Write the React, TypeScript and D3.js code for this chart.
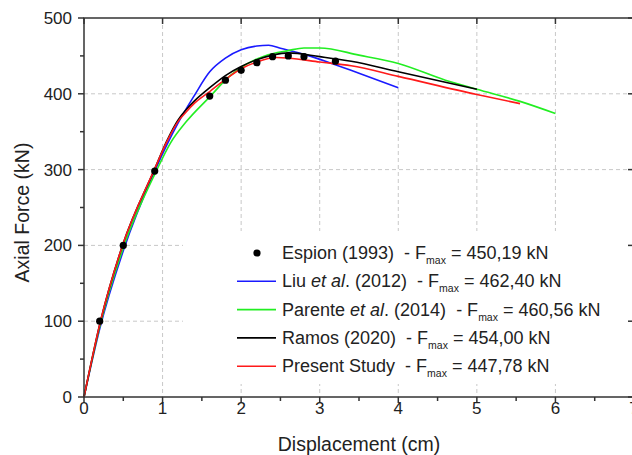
import React from "react";
import * as d3 from "d3";

const espionX = [0.2, 0.5, 0.9, 1.6, 1.8, 2.0, 2.2, 2.4, 2.6, 2.8, 3.2];
const espionY = [100, 200, 298, 397, 418, 431, 441, 449, 450, 449, 443];

const liuX = [0, 0.2, 0.5, 0.9, 1.2, 1.4, 1.6, 1.8, 2.0, 2.2, 2.35, 2.5, 2.8, 3.1, 3.5, 4.0];
const liuY = [0, 90, 193, 298, 362, 397, 429, 447, 458, 463, 464, 460, 452, 442, 427, 408];

const parX = [0, 0.21, 0.5, 0.92, 1.1, 1.3, 1.6, 1.85, 2.05, 2.3, 2.6, 2.8, 3.0, 3.5, 4.0, 4.6, 5.0, 5.55, 6.0];
const parY = [0, 97, 197, 298, 335, 363, 396, 423, 438, 450, 457, 460.5, 460.5, 451, 440, 418, 406, 390, 374];

const ramX = [0, 0.21, 0.49, 0.9, 1.05, 1.2, 1.3, 1.4, 1.6, 1.8, 2.0, 2.2, 2.4, 2.6, 3.0, 3.4, 4.0, 5.0];
const ramY = [0, 100, 200, 301, 337, 366, 379, 390, 408, 424, 436, 445, 451, 454, 449, 443, 429, 406];

const preX = [0, 0.21, 0.49, 0.9, 1.05, 1.2, 1.3, 1.4, 1.6, 1.8, 2.0, 2.2, 2.45, 2.6, 3.0, 3.4, 4.0, 5.0, 5.55];
const preY = [0, 100, 200, 301, 336, 364, 376, 387, 403, 419, 433, 442, 447.8, 447, 442, 437, 423, 399, 387];

const xTicks = [0, 1, 2, 3, 4, 5, 6, 7];
const yTicks = [0, 100, 200, 300, 400, 500];

const seriesNames = ["Espion (1993)", "Liu et al. (2012)", "Parente et al. (2014)", "Ramos (2020)", "Present Study"];
const fmaxValues = ["450,19", "462,40", "460,56", "454,00", "447,78"];

const FONT = "'Liberation Sans', Arial, sans-serif";

export default function App() {
  const left = 84, right = 634, top = 18, bottom = 397;
  const x = d3.scaleLinear().domain([0, 7]).range([left, right]);
  const y = d3.scaleLinear().domain([0, 500]).range([bottom, top]);
  const line = d3.line<[number, number]>().x(d => x(d[0])).y(d => y(d[1])).curve(d3.curveMonotoneX);
  const zip = (a: number[], b: number[]) => a.map((v, i) => [v, b[i]] as [number, number]);

  const lines = [
    { d: zip(liuX, liuY), color: "#1a1aff" },
    { d: zip(parX, parY), color: "#22ee22" },
    { d: zip(ramX, ramY), color: "#000000" },
    { d: zip(preX, preY), color: "#ff1a1a" },
  ];

  const xMinor = d3.range(0.5, 7, 1);
  const yMinor = d3.range(50, 500, 100);
  const axisColor = "#333";

  const legX = 237, legTextX = 282, legY0 = 253, legDy = 28.3;
  const legColors = ["#000", "#1a1aff", "#22ee22", "#000000", "#ff1a1a"];

  const renderName = (name: string) => {
    const m = name.match(/^(.*?)(et al\.)(.*)$/);
    if (!m) return <tspan>{name}</tspan>;
    return (
      <>
        <tspan>{m[1]}</tspan>
        <tspan fontStyle="italic">{m[2].slice(0, 5)}</tspan>
        <tspan>{m[2].slice(5) + m[3]}</tspan>
      </>
    );
  };

  return (
    <svg width={632} height={455} style={{ position: "absolute", left: 0, top: 0, background: "#fff" }} fontFamily={FONT}>
      {/* grid */}
      {xTicks.filter(t => t > 0 && t < 7).map(t => (
        <line key={"gx" + t} x1={x(t)} x2={x(t)} y1={top} y2={bottom} stroke="#c8c8c8" strokeDasharray="4,3" strokeWidth={1} />
      ))}
      {yTicks.filter(t => t > 0 && t < 500).map(t => (
        <line key={"gy" + t} x1={left} x2={right} y1={y(t)} y2={y(t)} stroke="#c8c8c8" strokeDasharray="4,3" strokeWidth={1} />
      ))}
      {/* legend background */}
      <rect x={183} y={231} width={460} height={153} fill="#fff" />

      {/* curves */}
      {lines.map((l, i) => (
        <path key={i} d={line(l.d) || ""} fill="none" stroke={l.color} strokeWidth={1.6} />
      ))}
      {espionX.map((v, i) => (
        <circle key={"e" + i} cx={x(v)} cy={y(espionY[i])} r={3.6} fill="#000" />
      ))}

      {/* frame */}
      <rect x={left} y={top} width={right - left} height={bottom - top} fill="none" stroke={axisColor} strokeWidth={1.5} />
      {xTicks.map(t => (
        <line key={"bt" + t} x1={x(t)} x2={x(t)} y1={bottom} y2={bottom + 6} stroke={axisColor} strokeWidth={1.5} />
      ))}
      {xMinor.map(t => (
        <line key={"bm" + t} x1={x(t)} x2={x(t)} y1={bottom} y2={bottom + 4} stroke={axisColor} strokeWidth={1.5} />
      ))}
      {xTicks.map(t => (
        <line key={"tt" + t} x1={x(t)} x2={x(t)} y1={top} y2={top + 6} stroke={axisColor} strokeWidth={1.5} />
      ))}
      {yTicks.map(t => (
        <line key={"lt" + t} x1={left - 6} x2={left} y1={y(t)} y2={y(t)} stroke={axisColor} strokeWidth={1.5} />
      ))}
      {yMinor.map(t => (
        <line key={"lm" + t} x1={left - 4} x2={left} y1={y(t)} y2={y(t)} stroke={axisColor} strokeWidth={1.5} />
      ))}
      {yTicks.map(t => (
        <line key={"rt" + t} x1={right - 6} x2={right} y1={y(t)} y2={y(t)} stroke={axisColor} strokeWidth={1.5} />
      ))}

      {/* tick labels */}
      {xTicks.map(t => (
        <text key={"xl" + t} x={x(t)} y={414} textAnchor="middle" fontSize={17} fill="#222">{t}</text>
      ))}
      {yTicks.map(t => (
        <text key={"yl" + t} x={72} y={y(t) + 6} textAnchor="end" fontSize={17} fill="#222">{t}</text>
      ))}

      {/* axis titles */}
      <text x={359} y={451} textAnchor="middle" fontSize={19.5} fill="#222">Displacement (cm)</text>
      <text transform={`translate(29,${(top + bottom) / 2 + 5}) rotate(-90)`} textAnchor="middle" fontSize={19.5} fill="#222">Axial Force (kN)</text>

      {/* legend */}
      {seriesNames.map((name, i) => {
        const cy = legY0 + i * legDy;
        return (
          <g key={"lg" + i}>
            {i === 0 ? (
              <circle cx={257} cy={cy} r={3.6} fill="#000" />
            ) : (
              <line x1={legX} x2={276} y1={cy} y2={cy} stroke={legColors[i]} strokeWidth={1.6} />
            )}
            <text x={legTextX} y={cy + 6} fontSize={18} fill="#222" style={{ whiteSpace: "pre" }}>
              {renderName(name)}
              <tspan>{"  - F"}</tspan>
              <tspan fontSize={10.5} dy={5}>max</tspan>
              <tspan dy={-5}>{" = " + fmaxValues[i] + " kN"}</tspan>
            </text>
          </g>
        );
      })}
    </svg>
  );
}
